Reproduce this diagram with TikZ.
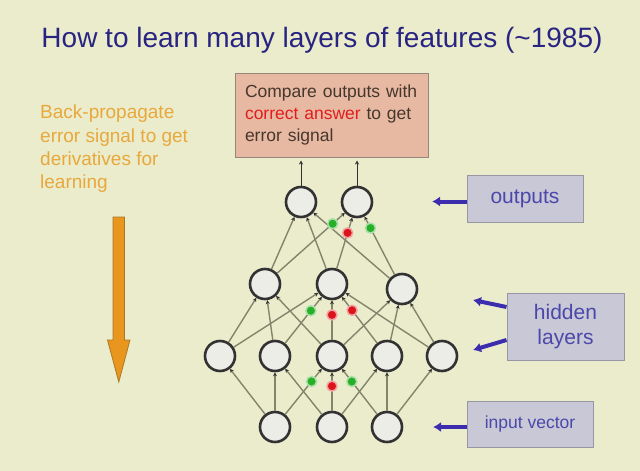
\documentclass[tikz,border=0pt]{standalone}
\usepackage{fontspec}
\setmainfont{Liberation Sans}
\usetikzlibrary{arrows.meta}
\usetikzlibrary{positioning}
\usetikzlibrary{math}
\definecolor{bgcol}{RGB}{235,236,204}
\definecolor{titleblue}{RGB}{40,36,130}
\definecolor{cmpfill}{RGB}{232,185,162}
\definecolor{cmpdraw}{RGB}{150,135,125}
\definecolor{cmptext}{RGB}{70,55,45}
\definecolor{cmpred}{RGB}{225,30,30}
\definecolor{bpcol}{RGB}{232,168,60}
\definecolor{arrfill}{RGB}{232,150,30}
\definecolor{arrdraw}{RGB}{170,120,40}
\definecolor{lblfill}{RGB}{200,200,214}
\definecolor{lbldraw}{RGB}{150,150,165}
\definecolor{lbltext}{RGB}{75,72,170}
\definecolor{lblarrcol}{RGB}{60,45,175}
\definecolor{edgecol}{RGB}{132,132,108}
\definecolor{nodefill}{RGB}{237,237,232}
\definecolor{nodedraw}{RGB}{50,50,50}
\definecolor{dotgreen}{RGB}{40,175,40}
\definecolor{dotred}{RGB}{220,20,25}
\tikzset{neuron/.style={circle, draw=nodedraw, fill=nodefill, line width=2.6pt, minimum size=30pt, inner sep=0pt},
	edge/.style={draw=edgecol, line width=1.4pt, -{Stealth[length=4pt,width=4pt,color=nodedraw]}},
	gdot/.style={circle, fill=dotgreen, draw=dotgreen!40!white, line width=1.5pt, minimum size=10pt, inner sep=0pt},
	rdot/.style={circle, fill=dotred, draw=dotred!40!white, line width=1.5pt, minimum size=10pt, inner sep=0pt},
	lblbox/.style={draw=lbldraw, fill=lblfill, line width=1pt, text=lbltext, align=center},
	lblarr/.style={draw=lblarrcol, line width=4pt, -{Latex[length=8pt,width=10pt]}},
	uparr/.style={draw=nodedraw, line width=1pt, shorten >=3pt, -{Stealth[length=4pt,width=4pt]}}}

\begin{document}
\begin{tikzpicture}[x=1pt,y=-1pt]
	\tikzmath{\yo=202; \yg=284; \yh=356; \yi=427;}
	\fill[bgcol] (0,0) rectangle (640,471);
	\useasboundingbox (0,0) rectangle (640,471);
	\node[text=titleblue, font=\fontsize{28}{32}\selectfont] (title) at (322,40) {How to learn many layers of features (\textasciitilde1985)};
	% network
	\node[neuron] (o1) at (301,\yo) {};
	\node[neuron] (o2) at (357,\yo) {};
	\node[neuron] (g1) at (265,\yg) {};
	\node[neuron] (g2) at (332,\yg) {};
	\node[neuron] (g3) at (402,\yg+5) {};
	\node[neuron] (h1) at (220,\yh) {};
	\node[neuron] (h2) at (275,\yh) {};
	\node[neuron] (h3) at (332,\yh) {};
	\node[neuron] (h4) at (387,\yh) {};
	\node[neuron] (h5) at (442,\yh) {};
	\node[neuron] (i1) at (275,\yi) {};
	\node[neuron] (i2) at (332,\yi) {};
	\node[neuron] (i3) at (387,\yi) {};
	\foreach \a/\b in {i1/h1,i1/h2,i2/h2,i2/h4,i3/h4,i3/h5,h1/g1,h2/g1,h3/g1,h1/g2,h5/g2,h3/g3,h4/g3,h5/g3,g1/o1,g2/o1,g3/o1}
		\draw[edge] (\a) -- (\b);
	\draw[edge] (i1) -- node[gdot,pos=.72] (d1) {} (h3);
	\draw[edge] (i2) -- node[rdot,pos=.64] (d2) {} (h3);
	\draw[edge] (i3) -- node[gdot,pos=.72] (d3) {} (h3);
	\draw[edge] (h2) -- node[gdot,pos=.70] (d4) {} (g2);
	\draw[edge] (h3) -- node[rdot,pos=.63] (d5) {} (g2);
	\draw[edge] (h4) -- node[rdot,pos=.71] (d6) {} (g2);
	\draw[edge] (g1) -- node[gdot,pos=.82] (d7) {} (o2);
	\draw[edge] (g2) -- node[rdot,pos=.70] (d8) {} (o2);
	\draw[edge] (g3) -- node[gdot,pos=.80] (d9) {} (o2);
	% error box
	\node[draw=cmpdraw, fill=cmpfill, line width=1pt, minimum width=193pt, minimum height=84pt, text width=173pt, align=left, text=cmptext, font=\fontsize{17.5}{22}\selectfont] (cmp) at (331.5,115) {Compare outputs with\\\textcolor{cmpred}{correct answer} to get\\error signal};
	\draw[uparr] (o1) -- (o1 |- cmp.south);
	\draw[uparr] (o2) -- (o2 |- cmp.south);
	% back-propagation
	\node[text=bpcol, align=left, anchor=north west, inner sep=0pt, font=\fontsize{19}{23.3}\selectfont] (bp) at (40,105) {Back-propagate\\error signal to get\\derivatives for\\learning};
	\filldraw[fill=arrfill, draw=arrdraw, line width=0.8pt] (113,217) -- (124.5,217) -- (124.5,340) -- (130,340) -- (118.8,382) -- (107.5,340) -- (113,340) -- cycle;
	% labels
	\node[lblbox, minimum width=116pt, minimum height=47pt, font=\fontsize{21}{25}\selectfont] (outl) at (525,198.5) {outputs};
	\node[lblbox, minimum width=117pt, minimum height=67pt, font=\fontsize{21}{25}\selectfont] (hidl) at (565.5,326.5) {hidden\\layers};
	\node[lblbox, minimum width=126pt, minimum height=46pt, font=\fontsize{17.5}{21}\selectfont] (inl) at (530,424) {input vector};
	\coordinate (outtip) at (432,201.5);
	\coordinate (hidtipa) at (473,300);
	\coordinate (hidtipb) at (473,350);
	\coordinate (intip) at (433,427);
	\draw[lblarr] ([yshift=-3pt]outl.west) -- (outtip);
	\draw[lblarr] ([yshift=19.5pt]hidl.west) -- (hidtipa);
	\draw[lblarr] ([yshift=-13.5pt]hidl.west) -- (hidtipb);
	\draw[lblarr] ([yshift=-3pt]inl.west) -- (intip);
\end{tikzpicture}
\end{document}
